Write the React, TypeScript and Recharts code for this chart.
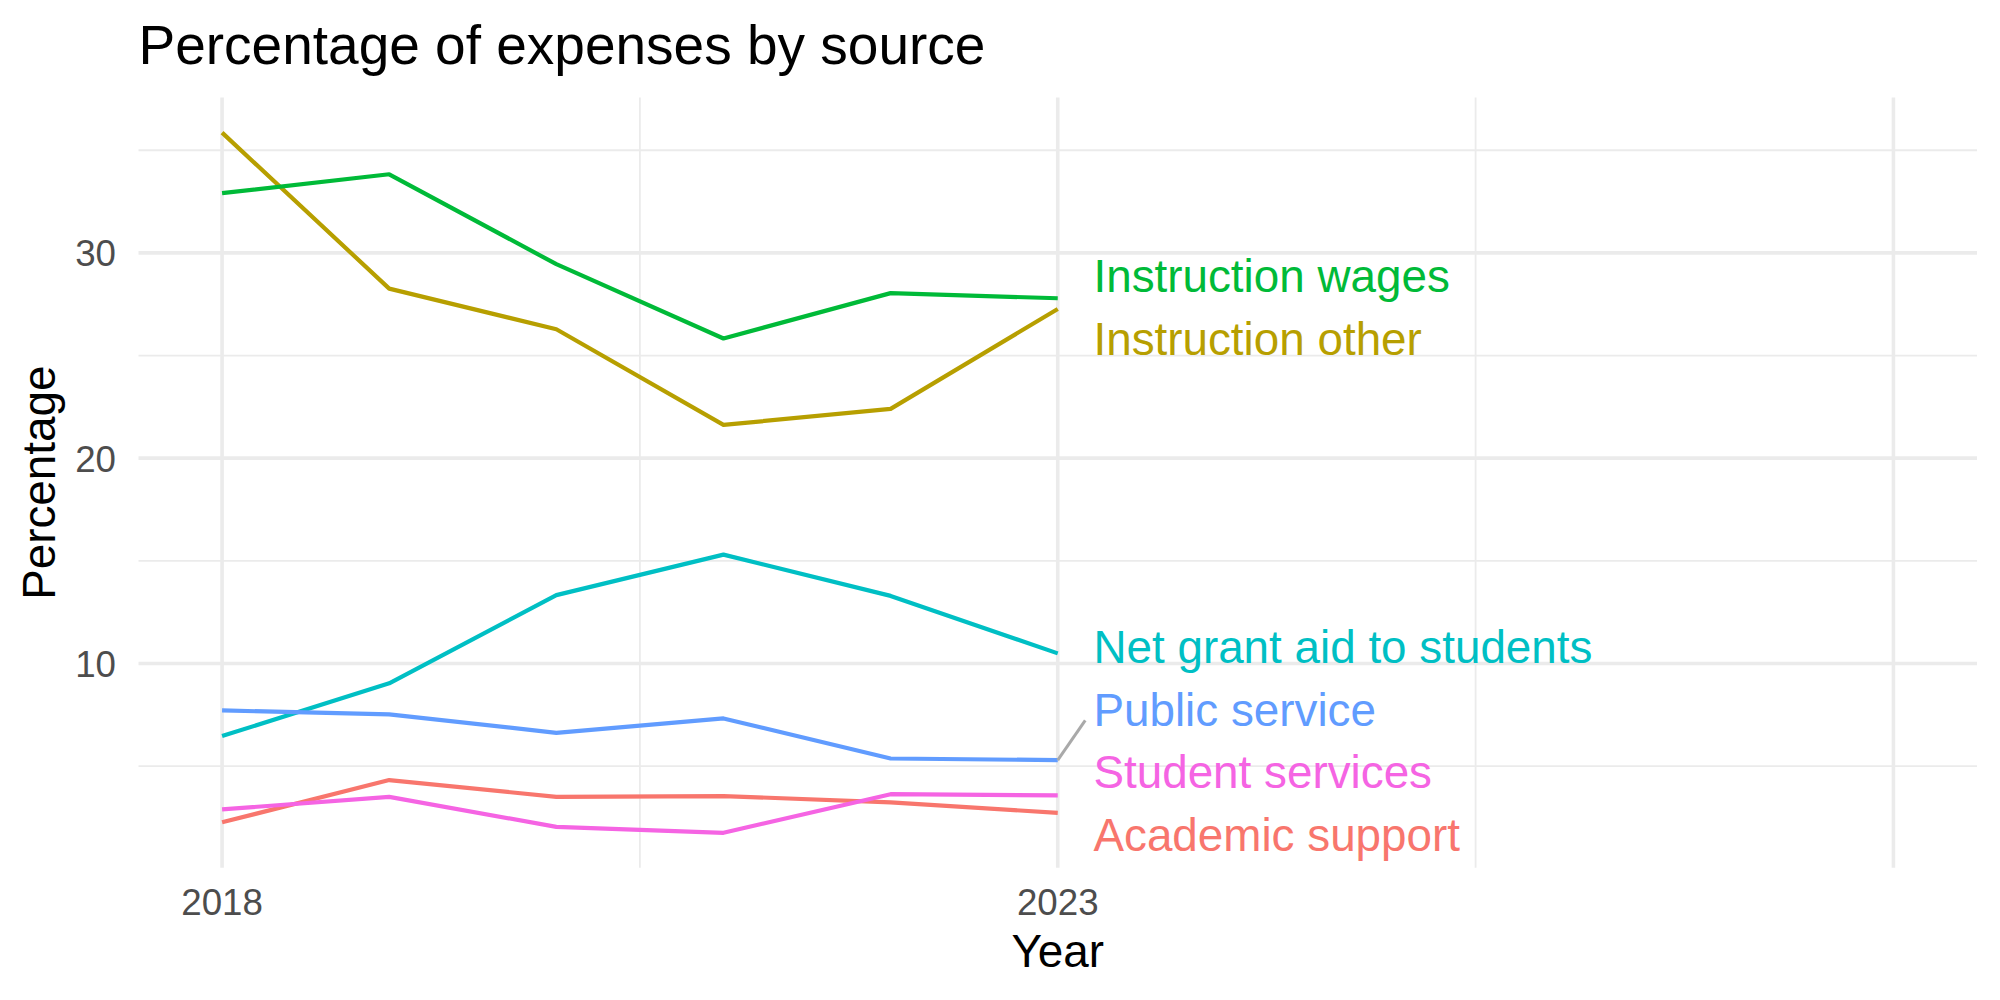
import React from 'react';
import { LineChart, Line, XAxis, YAxis, ReferenceLine, ReferenceDot } from 'recharts';

// values, one array per expense source
const years = [2018, 2019, 2020, 2021, 2022, 2023];
const academicSupport = [2.26, 4.32, 3.5, 3.54, 3.23, 2.72];
const instructionOther = [35.86, 28.26, 26.28, 21.62, 22.4, 27.27];
const instructionWages = [32.91, 33.83, 29.45, 25.83, 28.04, 27.79];
const netGrantAid = [6.46, 9.03, 13.33, 15.3, 13.29, 10.49];
const publicService = [7.71, 7.52, 6.62, 7.32, 5.37, 5.29];
const studentServices = [2.89, 3.5, 2.04, 1.75, 3.63, 3.57];

const seriesNames = [
  'Academic support',
  'Instruction other',
  'Instruction wages',
  'Net grant aid to students',
  'Public service',
  'Student services',
];
const seriesValues = [academicSupport, instructionOther, instructionWages, netGrantAid, publicService, studentServices];
const seriesColors = ['#F8766D', '#B79F00', '#00BA38', '#00BFC4', '#619CFF', '#F564E3'];

const yTicks = [10, 20, 30];
const yMinorTicks = [5, 15, 25, 35];
const xTicks = [2018, 2023, 2028];
const xMinorTicks = [2020.5, 2025.5];
const xLabelled = [2018, 2023];

const FONT = '"Liberation Sans", Arial, Helvetica, sans-serif';
const GRID = '#EBEBEB';

// table for recharts
const data = years.map((year, i) => {
  const row: Record<string, number> = { year };
  seriesNames.forEach((name, s) => {
    row[name] = seriesValues[s][i];
  });
  return row;
});

// ggplot style 5% expansion of the y range
const allValues = seriesValues.flat();
const yMin = Math.min(...allValues);
const yMax = Math.max(...allValues);
const yPad = (yMax - yMin) * 0.05;
const yDomain: [number, number] = [yMin - yPad, yMax + yPad];
const xDomain: [number, number] = [2017.5, 2028.5];

// simple 1d label repel (in data units), like ggrepel stacking labels at the line ends
const LABEL_GAP = 3.05;
const LABEL_EDGE = 1.62;
function repelLabels(ends: number[], gap: number, lo: number, hi: number): number[] {
  const order = ends.map((_, i) => i).sort((a, b) => ends[b] - ends[a]);
  const place = (ids: number[]) => {
    const raw = ids.reduce((s, id, k) => s + ends[id] + k * gap, 0) / ids.length;
    return Math.min(hi, Math.max(lo + (ids.length - 1) * gap, raw));
  };
  let groups = order.map((id) => ({ ids: [id], top: place([id]) }));
  let merged = true;
  while (merged) {
    merged = false;
    for (let g = 1; g < groups.length; g++) {
      const prev = groups[g - 1];
      const prevBottom = prev.top - (prev.ids.length - 1) * gap;
      if (groups[g].top > prevBottom - gap) {
        const ids = [...prev.ids, ...groups[g].ids];
        groups.splice(g - 1, 2, { ids, top: place(ids) });
        merged = true;
        break;
      }
    }
  }
  const out = new Array(ends.length).fill(0);
  groups.forEach((gr) => gr.ids.forEach((id, k) => (out[id] = gr.top - k * gap)));
  return out;
}

const lastYear = years[years.length - 1];
const endValues = seriesValues.map((v) => v[v.length - 1]);
const labelValues = repelLabels(endValues, LABEL_GAP, yDomain[0] + LABEL_EDGE, yDomain[1] - LABEL_EDGE);

const XTick = (props: any) => {
  const { x, payload } = props;
  if (!xLabelled.includes(payload.value)) return <g />;
  return (
    <text x={x} y={915} textAnchor="middle" fill="#4D4D4D" fontSize={36.7} fontFamily={FONT}>
      {payload.value}
    </text>
  );
};

const YTick = (props: any) => {
  const { y, payload } = props;
  return (
    <text x={116} y={y} dy={13.5} textAnchor="end" fill="#4D4D4D" fontSize={36.7} fontFamily={FONT}>
      {payload.value}
    </text>
  );
};

const App: React.FC = () => {
  return (
    <div style={{ position: 'absolute', left: 0, top: 0, width: 2000, height: 1000, background: '#fff' }}>
      <svg width={2000} height={100} style={{ position: 'absolute', left: 0, top: 0 }}>
        <text x={138.5} y={63.5} fontSize={55} fontFamily={FONT} fill="#000">
          Percentage of expenses by source
        </text>
      </svg>
      <LineChart
        width={2000}
        height={1000}
        data={data}
        margin={{ top: 97.6, right: 23, bottom: 72.2, left: 0 }}
        style={{ position: 'absolute', left: 0, top: 0 }}
      >
        {/* minor grid first, then major, like ggplot */}
        {xMinorTicks.map((x) => (
          <ReferenceLine key={'vx' + x} x={x} stroke={GRID} strokeWidth={1.8} />
        ))}
        {yMinorTicks.map((y) => (
          <ReferenceLine key={'hy' + y} y={y} stroke={GRID} strokeWidth={1.8} />
        ))}
        {xTicks.map((x) => (
          <ReferenceLine key={'VX' + x} x={x} stroke={GRID} strokeWidth={3.6} />
        ))}
        {yTicks.map((y) => (
          <ReferenceLine key={'HY' + y} y={y} stroke={GRID} strokeWidth={3.6} />
        ))}
        <XAxis
          dataKey="year"
          type="number"
          domain={xDomain}
          ticks={xTicks}
          interval={0}
          allowDataOverflow
          axisLine={false}
          tickLine={false}
          height={60}
          tick={XTick}
          label={{
            content: (p: any) => {
              const vb = p.viewBox || { x: 138.5, y: 867.8, width: 1838.5 };
              return (
                <text x={vb.x + vb.width / 2} y={vb.y + 98.9} textAnchor="middle" fontSize={45.8} fontFamily={FONT} fill="#000">
                  Year
                </text>
              );
            },
          }}
        />
        <YAxis
          type="number"
          domain={yDomain}
          ticks={yTicks}
          interval={0}
          allowDataOverflow
          axisLine={false}
          tickLine={false}
          width={138.5}
          tick={YTick}
          label={{
            content: (p: any) => {
              const vb = p.viewBox || { y: 97.6, height: 770.2 };
              const cy = vb.y + vb.height / 2;
              return (
                <text
                  x={55}
                  y={cy}
                  transform={`rotate(-90 55 ${cy})`}
                  textAnchor="middle"
                  fontSize={45.8}
                  fontFamily={FONT}
                  fill="#000"
                >
                  Percentage
                </text>
              );
            },
          }}
        />
        {seriesNames.map((name, s) => (
          <Line
            key={name}
            type="linear"
            dataKey={name}
            stroke={seriesColors[s]}
            strokeWidth={4.2}
            strokeLinejoin="round"
            dot={false}
            activeDot={false}
            isAnimationActive={false}
          />
        ))}
        {seriesNames.map((name, s) =>
          Math.abs(labelValues[s] - endValues[s]) > 2 ? (
            <ReferenceLine
              key={'seg' + name}
              segment={[
                { x: lastYear, y: endValues[s] },
                { x: lastYear + 0.1645, y: labelValues[s] - 0.54 },
              ]}
              stroke="#A9A9A9"
              strokeWidth={3}
            />
          ) : null
        )}
        {seriesNames.map((name, s) => (
          <ReferenceDot
            key={'lab' + name}
            x={lastYear}
            y={labelValues[s]}
            r={1}
            shape={(p: any) => (
              <text x={p.cx + 35.7} y={p.cy + 16.4 + (labelValues[s] > 20 ? 3.5 : 0)} fill={seriesColors[s]} fontSize={45.8} fontFamily={FONT}>
                {name}
              </text>
            )}
          />
        ))}
      </LineChart>
    </div>
  );
};

export default App;
